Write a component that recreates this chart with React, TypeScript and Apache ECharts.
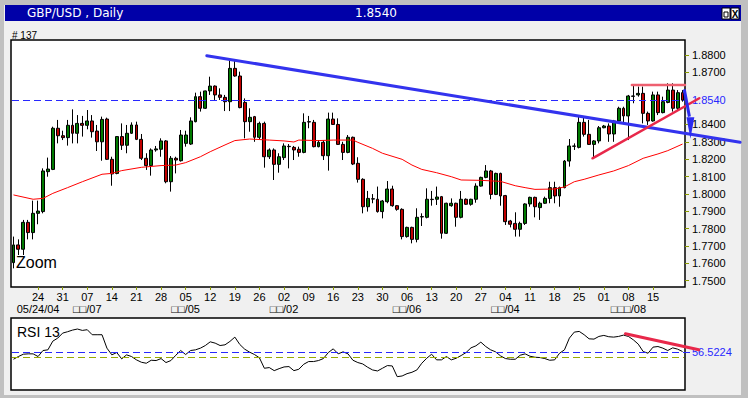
import React, { useEffect, useRef } from 'react';
import * as echarts from 'echarts';

// ---- data ----
const OPEN = [
  1.7604, 1.7706, 1.7681, 1.7836, 1.7777, 1.7888, 1.7898, 1.8128, 1.8141, 1.8378,
  1.8335, 1.8324, 1.8395, 1.8349, 1.8406, 1.8395, 1.8420, 1.8362, 1.8300, 1.8431,
  1.8199, 1.8118, 1.8330, 1.8280, 1.8349, 1.8397, 1.8314, 1.8205, 1.8163, 1.8253,
  1.8257, 1.8305, 1.8070, 1.8205, 1.8191, 1.8291, 1.8287, 1.8416, 1.8560, 1.8493,
  1.8593, 1.8621, 1.8570, 1.8556, 1.8531, 1.8723, 1.8679, 1.8527, 1.8416, 1.8445,
  1.8326, 1.8406, 1.8214, 1.8253, 1.8170, 1.8209, 1.8274, 1.8268, 1.8257, 1.8239,
  1.8414, 1.8412, 1.8272, 1.8297, 1.8220, 1.8431, 1.8400, 1.8285, 1.8239, 1.8326,
  1.8176, 1.8084, 1.7926, 1.7972, 1.7969, 1.7898, 1.7955, 1.8028, 1.7932, 1.7911,
  1.7754, 1.7807, 1.7738, 1.7867, 1.7865, 1.7969, 1.7969, 1.7984, 1.7773, 1.7932,
  1.7946, 1.7865, 1.7969, 1.7940, 1.7969, 1.8045, 1.8095, 1.8132, 1.7997, 1.8118,
  1.7990, 1.7844, 1.7830, 1.7796, 1.7830, 1.7942, 1.7980, 1.7921, 1.7946, 1.7974,
  1.8036, 1.7988, 1.8036, 1.8189, 1.8274, 1.8268, 1.8412, 1.8343, 1.8285, 1.8305,
  1.8381, 1.8391, 1.8345, 1.8420, 1.8493, 1.8449, 1.8562, 1.8570, 1.8579, 1.8464,
  1.8420, 1.8570, 1.8468, 1.8527, 1.8598, 1.8493, 1.8583,
];
const CLOSE = [
  1.7706, 1.7681, 1.7836, 1.7777, 1.7888, 1.7901, 1.8132, 1.8143, 1.8378, 1.8335,
  1.8324, 1.8395, 1.8349, 1.8406, 1.8395, 1.8420, 1.8358, 1.8300, 1.8429, 1.8199,
  1.8115, 1.8330, 1.8280, 1.8349, 1.8397, 1.8314, 1.8205, 1.8163, 1.8253, 1.8259,
  1.8305, 1.8070, 1.8205, 1.8195, 1.8339, 1.8339, 1.8420, 1.8560, 1.8493, 1.8593,
  1.8621, 1.8570, 1.8556, 1.8531, 1.8723, 1.8679, 1.8497, 1.8416, 1.8441, 1.8326,
  1.8406, 1.8214, 1.8253, 1.8170, 1.8214, 1.8276, 1.8272, 1.8253, 1.8239, 1.8412,
  1.8416, 1.8272, 1.8297, 1.8220, 1.8431, 1.8400, 1.8285, 1.8239, 1.8326, 1.8172,
  1.8084, 1.7926, 1.7974, 1.7970, 1.7898, 1.7959, 1.8028, 1.7932, 1.7911, 1.7754,
  1.7807, 1.7738, 1.7865, 1.7869, 1.7969, 1.7967, 1.7982, 1.7773, 1.7946, 1.7946,
  1.7865, 1.7969, 1.7940, 1.7969, 1.8045, 1.8095, 1.8132, 1.7997, 1.8118, 1.7988,
  1.7840, 1.7825, 1.7796, 1.7830, 1.7942, 1.7980, 1.7926, 1.7946, 1.7974, 1.8036,
  1.7988, 1.8036, 1.8189, 1.8276, 1.8276, 1.8412, 1.8343, 1.8285, 1.8305, 1.8381,
  1.8391, 1.8345, 1.8420, 1.8493, 1.8449, 1.8564, 1.8564, 1.8579, 1.8464, 1.8420,
  1.8570, 1.8468, 1.8531, 1.8598, 1.8493, 1.8583, 1.8540,
];
const LOW = [
  1.7571, 1.7648, 1.7648, 1.7738, 1.7738, 1.7825, 1.7888, 1.8099, 1.8137, 1.8291,
  1.8310, 1.8278, 1.8291, 1.8291, 1.8330, 1.8372, 1.8324, 1.8247, 1.8191, 1.8195,
  1.8047, 1.8113, 1.8253, 1.8234, 1.8345, 1.8310, 1.8195, 1.8138, 1.8105, 1.8243,
  1.8214, 1.8061, 1.8013, 1.8118, 1.8186, 1.8272, 1.8282, 1.8412, 1.8474, 1.8489,
  1.8570, 1.8541, 1.8541, 1.8477, 1.8477, 1.8675, 1.8493, 1.8320, 1.8358, 1.8300,
  1.8316, 1.8151, 1.8201, 1.8080, 1.8122, 1.8195, 1.8147, 1.8195, 1.8214, 1.8234,
  1.8378, 1.8268, 1.8268, 1.8195, 1.8134, 1.8397, 1.8282, 1.8195, 1.8234, 1.8166,
  1.8065, 1.7888, 1.7898, 1.7946, 1.7892, 1.7859, 1.7946, 1.7926, 1.7903, 1.7738,
  1.7748, 1.7715, 1.7721, 1.7815, 1.7859, 1.7932, 1.7936, 1.7742, 1.7769, 1.7926,
  1.7811, 1.7859, 1.7936, 1.7932, 1.7949, 1.8042, 1.8090, 1.7969, 1.7993, 1.7932,
  1.7821, 1.7807, 1.7754, 1.7754, 1.7821, 1.7926, 1.7865, 1.7850, 1.7942, 1.7946,
  1.7946, 1.7926, 1.8032, 1.8157, 1.8253, 1.8262, 1.8330, 1.8282, 1.8205, 1.8291,
  1.8378, 1.8300, 1.8300, 1.8406, 1.8406, 1.8310, 1.8522, 1.8560, 1.8406, 1.8397,
  1.8416, 1.8454, 1.8464, 1.8522, 1.8474, 1.8483, 1.8531,
];
const HIGH = [
  1.7754, 1.7738, 1.7850, 1.7850, 1.7961, 1.7961, 1.8147, 1.8209, 1.8387, 1.8426,
  1.8364, 1.8426, 1.8487, 1.8454, 1.8449, 1.8483, 1.8454, 1.8397, 1.8445, 1.8439,
  1.8214, 1.8333, 1.8406, 1.8397, 1.8412, 1.8416, 1.8345, 1.8234, 1.8262, 1.8276,
  1.8320, 1.8310, 1.8218, 1.8214, 1.8368, 1.8364, 1.8441, 1.8583, 1.8589, 1.8595,
  1.8675, 1.8625, 1.8608, 1.8570, 1.8767, 1.8767, 1.8704, 1.8550, 1.8493, 1.8449,
  1.8416, 1.8416, 1.8262, 1.8262, 1.8234, 1.8291, 1.8287, 1.8276, 1.8272, 1.8464,
  1.8449, 1.8426, 1.8310, 1.8310, 1.8468, 1.8468, 1.8435, 1.8300, 1.8339, 1.8330,
  1.8211, 1.8090, 1.8017, 1.7999, 1.8042, 1.7965, 1.8074, 1.8047, 1.7936, 1.7917,
  1.7811, 1.7811, 1.7917, 1.7888, 1.8032, 1.8017, 1.8042, 1.7988, 1.7949, 1.7974,
  1.7949, 1.8017, 1.7974, 1.7972, 1.8061, 1.8099, 1.8166, 1.8138, 1.8122, 1.8122,
  1.7994, 1.7850, 1.7894, 1.7840, 1.7946, 1.7984, 1.7984, 1.7955, 1.7984, 1.8070,
  1.8070, 1.8042, 1.8195, 1.8316, 1.8291, 1.8445, 1.8445, 1.8426, 1.8310, 1.8391,
  1.8397, 1.8406, 1.8426, 1.8502, 1.8502, 1.8570, 1.8627, 1.8618, 1.8618, 1.8474,
  1.8589, 1.8589, 1.8560, 1.8637, 1.8637, 1.8598, 1.8598,
];
// moving average (red line), points read at bar indices: [barIndex, value]
const MA_POINTS = [
  [0, 1.7994], [4, 1.7969], [6, 1.7974], [8, 1.8003], [11, 1.8036], [14, 1.8070],
  [18, 1.8113], [20, 1.8118], [22, 1.8134], [26, 1.8153], [30, 1.8163], [33, 1.8166],
  [35, 1.8180], [38, 1.8214], [40, 1.8243], [43, 1.8282], [45, 1.8307], [48, 1.8316],
  [52, 1.8310], [55, 1.8305], [57, 1.8299], [58, 1.8310], [62, 1.8307], [65, 1.8310],
  [69, 1.8310], [70, 1.8297], [73, 1.8262], [75, 1.8234], [79, 1.8199], [81, 1.8166],
  [83, 1.8141], [86, 1.8122], [89, 1.8099], [91, 1.8080], [95, 1.8078], [99, 1.8072],
  [102, 1.8047], [104, 1.8036], [106, 1.8026], [110, 1.8028], [112, 1.8040], [114, 1.8070],
  [116, 1.8084], [119, 1.8109], [122, 1.8132], [125, 1.8163], [128, 1.8205], [131, 1.8230],
  [133, 1.8249], [136, 1.8287],
];
const RSI = [
  46.5, 50.0, 53.0, 53.5, 53.5, 50.0, 57.8, 58.7, 70.0, 73.9,
  80.4, 82.2, 84.3, 85.7, 83.9, 84.8, 78.3, 78.3, 78.3, 60.9,
  52.2, 55.2, 47.0, 52.2, 50.0, 45.7, 42.6, 41.3, 45.2, 44.8,
  47.4, 42.2, 44.8, 51.7, 57.8, 52.6, 57.8, 58.7, 60.9, 64.3,
  69.1, 67.4, 64.3, 65.2, 69.6, 75.2, 65.7, 59.6, 55.7, 52.6,
  48.3, 34.8, 35.7, 31.7, 34.3, 36.5, 37.0, 31.7, 33.5, 40.0,
  43.5, 43.5, 44.8, 47.4, 55.2, 60.0, 53.5, 56.1, 53.5, 45.2,
  42.2, 40.4, 36.1, 32.6, 31.3, 34.8, 38.3, 37.8, 23.9, 24.8,
  27.8, 29.6, 32.6, 41.3, 47.8, 53.0, 45.7, 45.7, 50.0, 45.7,
  47.8, 51.3, 55.2, 61.3, 63.9, 68.7, 63.0, 58.7, 56.1, 50.9,
  47.4, 46.5, 46.5, 51.7, 53.5, 50.4, 49.1, 48.7, 47.4, 45.2,
  45.7, 54.3, 58.7, 73.9, 81.7, 82.6, 78.3, 73.0, 72.6, 76.1,
  77.4, 75.7, 75.2, 76.1, 77.8, 76.1, 71.7, 66.1, 56.5, 54.3,
  62.2, 63.0, 60.9, 57.8, 61.3, 59.6, 56.5224,
];
const PRICE_TICKS = [1.75, 1.76, 1.77, 1.78, 1.79, 1.8, 1.81, 1.82, 1.83, 1.84, 1.87, 1.88];
const LAST_PRICE = 1.854;
const LAST_RSI = 56.5224;
const RSI_MID = 50;
const LAST_LABELLED_BAR = 130;
const MONTH_LABELS: Record<string, string> = {
  '2004-05-24': '05/24/04',
  '2004-06-07': '\u25A1\u25A1/07',
  '2004-07-05': '\u25A1\u25A1/05',
  '2004-08-02': '\u25A1\u25A1/02',
  '2004-09-06': '\u25A1\u25A1/06',
  '2004-10-04': '\u25A1\u25A1/04',
  '2004-11-08': '\u25A1\u25A1\u25A1/08',
};
// drawn annotations, in [barIndex, value]
const BLUE_TREND = [[39.3, 1.8796], [147.7, 1.8297]];
const RED_SUPPORT = [[117.7, 1.8205], [139.4, 1.8551]];
const RED_TOP = [[125.7, 1.8627], [136.5, 1.8627]];
const ARROW = { from: [136.35, 1.8602], to: [137.4, 1.8445], tip: [137.6, 1.8318], base: 1.8442, half: 0.8 };
const RSI_TREND = [[124.4, 79.6], [139.3, 58.7]];

const START_DATE = Date.UTC(2004, 4, 17);

function buildDates(n: number): string[] {
  const out: string[] = [];
  const d = new Date(START_DATE);
  while (out.length < n) {
    const wd = d.getUTCDay();
    if (wd !== 0 && wd !== 6) out.push(d.toISOString().slice(0, 10));
    d.setUTCDate(d.getUTCDate() + 1);
  }
  return out;
}

const FONT = "'Liberation Sans', Arial, sans-serif";

export default function App() {
  const ref = useRef<HTMLDivElement>(null);
  useEffect(() => {
    document.body.style.margin = '0';
    const el = ref.current!;
    const chart = echarts.init(el, null, { renderer: 'svg', width: 748, height: 398 });
    const dates = buildDates(OPEN.length);
    const isMonday = (s: string) => new Date(s + 'T00:00:00Z').getUTCDay() === 1;
    const showTick = (i: number) => i > 0 && i <= LAST_LABELLED_BAR && isMonday(dates[i]);
    const showMonth = (i: number) => MONTH_LABELS[dates[i]] != null;
    const candles = OPEN.map((o, i) => [o, CLOSE[i], LOW[i], HIGH[i]]);
    const olive = '#8c9c00';
    const blue = '#2828ff';
    const hiddenCat = (gridIndex: number) => ({
      type: 'category', gridIndex, data: dates, boundaryGap: true,
      axisLine: { show: false }, axisTick: { show: false }, axisLabel: { show: false }, splitLine: { show: false },
    });

    chart.setOption({
      animation: false,
      backgroundColor: '#f0f0f0',
      grid: [
        { left: 11, top: 40, width: 674, height: 247, show: true, backgroundColor: '#fff', borderColor: '#000', borderWidth: 1.5 },
        { left: 11, top: 318, width: 674, height: 72, show: true, backgroundColor: '#fff', borderColor: '#000', borderWidth: 1.5 },
      ],
      xAxis: [
        {
          type: 'category', gridIndex: 0, data: dates, boundaryGap: true, position: 'bottom',
          axisLine: { show: false },
          axisTick: { show: true, alignWithLabel: true, length: 3, interval: (i: number) => showTick(i), lineStyle: { color: olive } },
          axisLabel: {
            interval: (i: number) => showTick(i),
            formatter: (v: string) => v.slice(8),
            fontFamily: FONT, fontSize: 11, color: '#000', margin: 4,
            hideOverlap: false, showMinLabel: true, showMaxLabel: true,
          },
          splitLine: { show: false },
        },
        {
          type: 'category', gridIndex: 0, data: dates, boundaryGap: true, position: 'bottom', offset: 12,
          axisLine: { show: false }, axisTick: { show: false }, splitLine: { show: false },
          axisLabel: {
            interval: (i: number) => showMonth(i),
            formatter: (v: string) => MONTH_LABELS[v] || '',
            fontFamily: FONT, fontSize: 11, color: '#000', margin: 4,
            hideOverlap: false, showMinLabel: true, showMaxLabel: true,
          },
        },
        hiddenCat(1),
      ],
      yAxis: [
        {
          type: 'value', gridIndex: 0, position: 'right', min: 1.74636, max: 1.88864,
          axisLine: { show: false }, splitLine: { show: false },
          axisTick: { show: true, length: 4, customValues: PRICE_TICKS, lineStyle: { color: olive } },
          axisLabel: {
            customValues: [...PRICE_TICKS, LAST_PRICE],
            formatter: (v: number) => v.toFixed(4),
            color: (v: any) => (Math.abs(Number(v) - LAST_PRICE) < 1e-6 ? blue : '#000'),
            fontFamily: FONT, fontSize: 11, margin: 7, hideOverlap: false,
          },
        },
        {
          type: 'value', gridIndex: 1, position: 'right', min: 6.6, max: 100,
          axisLine: { show: false }, splitLine: { show: false }, axisTick: { show: false },
          axisLabel: {
            customValues: [LAST_RSI], formatter: (v: number) => v.toFixed(4),
            color: blue, fontFamily: FONT, fontSize: 11, margin: 7,
          },
        },
      ],
      series: [
        {
          type: 'candlestick', xAxisIndex: 0, yAxisIndex: 0, data: candles, barWidth: 3.4,
          itemStyle: { color: '#007a00', color0: '#c00000', borderColor: '#000', borderColor0: '#000', borderWidth: 1 },
        },
        {
          type: 'line', xAxisIndex: 0, yAxisIndex: 0, data: MA_POINTS, symbol: 'none', z: 3,
          lineStyle: { color: '#ff0000', width: 1 },
        },
        {
          type: 'line', xAxisIndex: 2, yAxisIndex: 1, data: RSI, symbol: 'none',
          lineStyle: { color: '#000', width: 1 },
        },
      ],
    });

    const n = OPEN.length - 1;
    const toPx = (gi: number, idx: number, val: number) => {
      const a = chart.convertToPixel({ gridIndex: gi } as any, [0, val]) as number[];
      const b = chart.convertToPixel({ gridIndex: gi } as any, [n, val]) as number[];
      return [a[0] + ((b[0] - a[0]) * idx) / n, a[1]];
    };
    const seg = (gi: number, p: number[][], stroke: string, w: number) => {
      const s = toPx(gi, p[0][0], p[0][1]);
      const e = toPx(gi, p[1][0], p[1][1]);
      return { type: 'line', z: 50, silent: true, shape: { x1: s[0], y1: s[1], x2: e[0], y2: e[1] }, style: { stroke, lineWidth: w, lineCap: 'round' } };
    };
    // horizontal dashed level across the whole plot width
    const level = (gi: number, val: number, stroke: string, x2: number) => {
      const y = Math.round(toPx(gi, 0, val)[1]) + 0.5;
      return { type: 'line', z: 5, silent: true, shape: { x1: 12, y1: y, x2, y2: y }, style: { stroke, lineWidth: 1, lineDash: [7, 4] } };
    };
    const aFrom = toPx(0, ARROW.from[0], ARROW.from[1]);
    const aTo = toPx(0, ARROW.to[0], ARROW.to[1]);
    const aTip = toPx(0, ARROW.tip[0], ARROW.tip[1]);
    const aL = toPx(0, ARROW.tip[0] - ARROW.half, ARROW.base);
    const aR = toPx(0, ARROW.tip[0] + ARROW.half, ARROW.base);

    const gray = '#c0c0c0';
    chart.setOption({
      graphic: [
        { type: 'rect', z: 1, silent: true, shape: { x: 0, y: 0, width: 748, height: 5 }, style: { fill: gray } },
        { type: 'rect', z: 1, silent: true, shape: { x: 0, y: 0, width: 4, height: 398 }, style: { fill: gray } },
        { type: 'rect', z: 1, silent: true, shape: { x: 741, y: 0, width: 7, height: 398 }, style: { fill: gray } },
        { type: 'rect', z: 1, silent: true, shape: { x: 0, y: 395, width: 748, height: 3 }, style: { fill: gray } },
        { type: 'rect', z: 1, silent: true, shape: { x: 5, y: 5, width: 736, height: 16 }, style: { fill: '#0000a8' } },
        { type: 'text', z: 2, silent: true, x: 27, y: 13, style: { text: 'GBP/USD , Daily', fill: '#fff', font: `12px 'DejaVu Sans', sans-serif`, verticalAlign: 'middle' } },
        { type: 'text', z: 2, silent: true, x: 376, y: 13, style: { text: '1.8540', fill: '#fff', font: `12px 'DejaVu Sans', sans-serif`, align: 'center', verticalAlign: 'middle' } },
        { type: 'rect', z: 2, silent: true, shape: { x: 722, y: 8, width: 8, height: 11 }, style: { fill: '#fff', stroke: '#000', lineWidth: 1 } },
        { type: 'rect', z: 2, silent: true, shape: { x: 724, y: 12, width: 4, height: 5 }, style: { fill: 'none', stroke: '#000', lineWidth: 1 } },
        { type: 'rect', z: 2, silent: true, shape: { x: 731, y: 8, width: 8, height: 11 }, style: { fill: '#fff', stroke: '#000', lineWidth: 1 } },
        { type: 'text', z: 3, silent: true, x: 735, y: 14, style: { text: 'X', fill: '#000', font: `bold 10px ${FONT}`, align: 'center', verticalAlign: 'middle' } },
        { type: 'text', z: 2, silent: true, x: 12, y: 35, style: { text: '# 137', fill: '#000', font: `10px ${FONT}`, verticalAlign: 'middle' } },
        { type: 'text', z: 60, silent: true, x: 16, y: 262, style: { text: 'Zoom', fill: '#000', font: `16px ${FONT}`, verticalAlign: 'middle' } },
        { type: 'text', z: 60, silent: true, x: 17, y: 332, style: { text: 'RSI 13', fill: '#000', font: `14px ${FONT}`, verticalAlign: 'middle' } },
        level(0, LAST_PRICE, blue, 684),
        level(1, LAST_RSI, blue, 690),
        level(1, RSI_MID, '#99aa00', 684),
        seg(0, BLUE_TREND, '#3333ee', 3),
        seg(0, RED_SUPPORT, '#e8284a', 2.5),
        seg(0, RED_TOP, '#ee6070', 2.5),
        { type: 'line', z: 51, silent: true, shape: { x1: aFrom[0], y1: aFrom[1], x2: aTo[0], y2: aTo[1] }, style: { stroke: '#2a2af0', lineWidth: 3 } },
        { type: 'polygon', z: 51, silent: true, shape: { points: [aL, aR, aTip] }, style: { fill: '#2a2af0' } },
        seg(1, RSI_TREND, '#e8284a', 3),
      ],
    });

    return () => chart.dispose();
  }, []);
  return <div ref={ref} style={{ width: 748, height: 398 }} />;
}
